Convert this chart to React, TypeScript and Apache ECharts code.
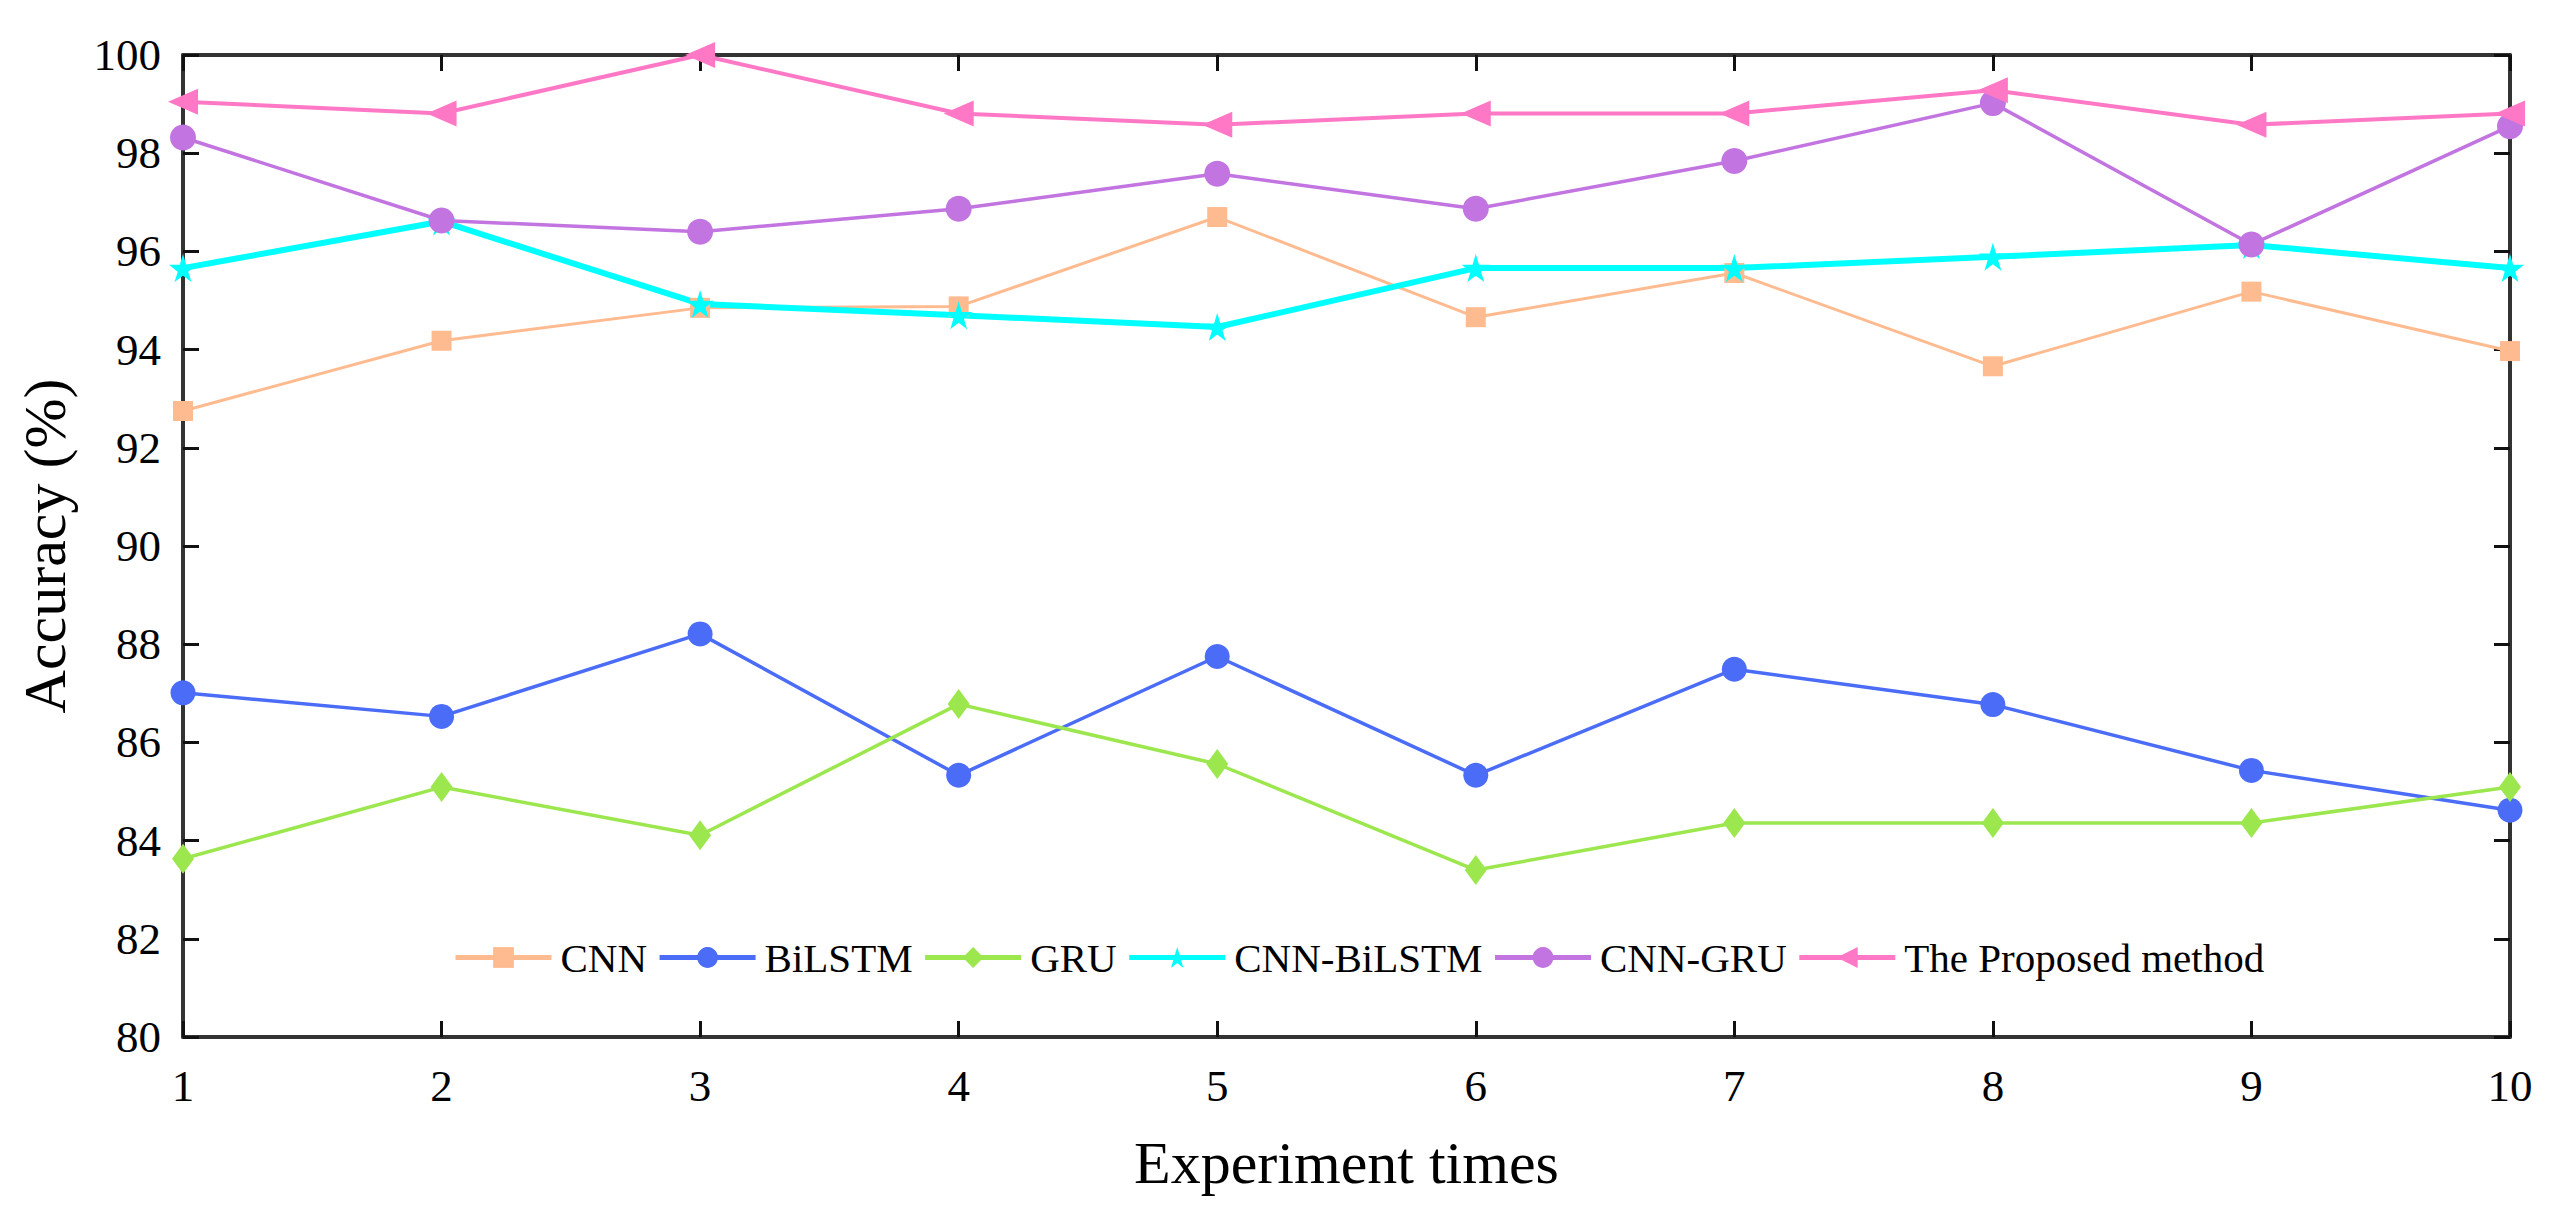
import React, { useEffect, useRef } from "react";
import * as echarts from "echarts";

const experiments = [1, 2, 3, 4, 5, 6, 7, 8, 9, 10];
const seriesNames = ["CNN", "BiLSTM", "GRU", "CNN-BiLSTM", "CNN-GRU", "The Proposed method"];
const cnn = [92.75, 94.18, 94.85, 94.88, 96.7, 94.66, 95.56, 93.66, 95.18, 93.97];
const bilstm = [87.01, 86.53, 88.21, 85.33, 87.75, 85.33, 87.49, 86.77, 85.43, 84.62];
const gru = [83.63, 85.09, 84.11, 86.78, 85.56, 83.4, 84.36, 84.36, 84.36, 85.09];
const cnnBilstm = [95.66, 96.61, 94.93, 94.7, 94.46, 95.66, 95.66, 95.89, 96.13, 95.66];
const cnnGru = [98.32, 96.63, 96.4, 96.87, 97.58, 96.87, 97.84, 99.02, 96.14, 98.55];
const proposed = [99.05, 98.81, 100, 98.81, 98.58, 98.81, 98.81, 99.28, 98.58, 98.81];

const colors = ["#FFBB90", "#4A6CF7", "#9CE64E", "#00FFFF", "#C274E0", "#FF78C6"];
const STAR = "path://M50,0 L61,35 L98,35 L68,57 L79,91 L50,70 L21,91 L32,57 L2,35 L39,35 Z";
const FONT = "'Liberation Serif', 'Times New Roman', serif";

export default function App() {
  const ref = useRef<HTMLDivElement>(null);
  useEffect(() => {
    document.body.style.margin = "0";
    const chart = echarts.init(ref.current!, undefined, { renderer: "svg" });
    const values = [cnn, bilstm, gru, cnnBilstm, cnnGru, proposed];
    const symbols = ["rect", "circle", "diamond", STAR, "circle", "triangle"];
    const sizes = [20, 25, [22, 30], 28, 26, [26, 30]];
    const widths = [3, 3.5, 3.5, 6, 3.5, 4];
    const axisLine = { show: true, lineStyle: { color: "#333", width: 4 } };
    const tick = { show: true, inside: true, length: 16, lineStyle: { color: "#111", width: 3 } };
    chart.setOption({
      animation: false,
      backgroundColor: "#fff",
      grid: { left: 183, right: 48, top: 55, bottom: 169 },
      legend: {
        left: 448,
        top: 932,
        itemWidth: 96,
        itemHeight: 26,
        itemGap: 10,
        data: seriesNames,
        lineStyle: { width: 5 },
        textStyle: { fontFamily: FONT, fontSize: 41, color: "#000", padding: [0, 0, 0, 4] },
      },
      xAxis: [
        {
          type: "value",
          min: 1,
          max: 10,
          interval: 1,
          name: "Experiment times",
          nameLocation: "middle",
          nameGap: 96,
          nameTextStyle: { fontFamily: FONT, fontSize: 60, color: "#000" },
          axisLine,
          axisTick: tick,
          splitLine: { show: false },
          axisLabel: { fontFamily: FONT, fontSize: 45, color: "#000", margin: 26 },
        },
        {
          type: "value",
          position: "top",
          min: 1,
          max: 10,
          interval: 1,
          axisLine,
          axisTick: tick,
          splitLine: { show: false },
          axisLabel: { show: false },
        },
      ],
      yAxis: [
        {
          type: "value",
          min: 80,
          max: 100,
          interval: 2,
          name: "Accuracy (%)",
          nameLocation: "middle",
          nameGap: 108,
          nameTextStyle: { fontFamily: FONT, fontSize: 60, color: "#000" },
          axisLine,
          axisTick: tick,
          splitLine: { show: false },
          axisLabel: { fontFamily: FONT, fontSize: 45, color: "#000", margin: 22 },
        },
        {
          type: "value",
          position: "right",
          min: 80,
          max: 100,
          interval: 2,
          axisLine,
          axisTick: tick,
          splitLine: { show: false },
          axisLabel: { show: false },
        },
      ],
      series: seriesNames.map((name, i) => ({
        name,
        type: "line",
        data: experiments.map((x, j) => [x, values[i][j]]),
        symbol: symbols[i],
        symbolSize: sizes[i],
        symbolRotate: i === 5 ? 90 : 0,
        showSymbol: true,
        lineStyle: { color: colors[i], width: widths[i] },
        itemStyle: { color: colors[i] },
        emphasis: { disabled: true },
      })),
    });
    return () => chart.dispose();
  }, []);
  return <div ref={ref} style={{ width: 2558, height: 1206 }} />;
}
